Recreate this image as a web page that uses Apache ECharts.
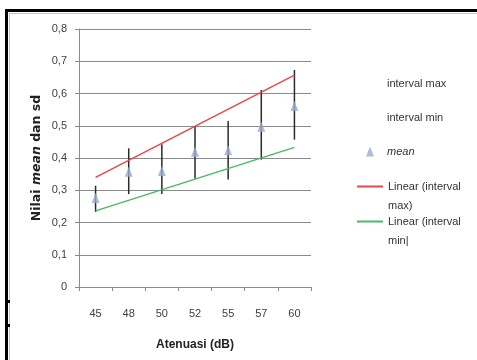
<!DOCTYPE html>
<html>
<head>
<meta charset="utf-8">
<script src="https://cdn.jsdelivr.net/npm/echarts@6/dist/echarts.min.js"></script>
<style>
  body { margin: 0; background: #fff; }
  #frame { position: absolute; left: 5px; top: 9px; width: 472px; height: 351px;
           border-top: 3px solid #000; border-left: 3px solid #000; box-sizing: border-box; }
  #frame-inner { position: absolute; left: 1px; top: 1px; right: 0; bottom: 0;
                 border-top: 1px solid #c4c4c4; border-left: 1px solid #c4c4c4; }
  .nick { position: absolute; left: 5px; width: 5px; height: 3px; background: #000; }
  #chart-ctn { position: absolute; left: 0; top: 0; width: 477px; height: 360px; }
</style>
</head>
<body>
<div id="frame"><div id="frame-inner"></div></div>
<div class="nick" style="top:300px"></div>
<div class="nick" style="top:324px"></div>
<div id="chart-ctn"></div>
<script>
var categories = ['45', '48', '50', '52', '55', '57', '60'];
var intervalMax = [0.314, 0.43, 0.443, 0.499, 0.515, 0.611, 0.673];
var intervalMin = [0.233, 0.288, 0.288, 0.336, 0.333, 0.395, 0.457];
var meanValues = [0.276, 0.357, 0.36, 0.419, 0.424, 0.497, 0.561];
// trend lines (first and last category)
var trendMax = [['45', 0.34], ['60', 0.657]];
var trendMin = [['45', 0.236], ['60', 0.433]];

var fontFam = "'Liberation Sans', Arial, sans-serif";
var gridColor = '#8a8a8a';

var errData = [];
categories.forEach(function(c, i) {
  errData.push([i, intervalMin[i], intervalMax[i]]);
});

var chart = echarts.init(document.getElementById('chart-ctn'));

var option = {
  animation: false,
  backgroundColor: 'transparent',
  textStyle: { fontFamily: fontFam },
  grid: { left: 79, right: 166, top: 29, bottom: 73 },
  legend: [
    {
      orient: 'vertical', left: 366, top: 78, padding: 0,
      itemWidth: 8, itemHeight: 10, itemGap: 23,
      textStyle: {
        fontSize: 11, color: '#333', fontFamily: fontFam, padding: [0, 0, 0, 8],
        rich: { i: { fontSize: 11, fontStyle: 'italic', color: '#333', fontFamily: fontFam } }
      },
      formatter: function(name) { return name == 'mean' ? '{i|mean}' : name; },
      data: [
        { name: 'interval max', icon: 'rect' },
        { name: 'interval min', icon: 'rect' },
        { name: 'mean', icon: 'triangle' }
      ],
      selectedMode: false
    },
    {
      orient: 'vertical', left: 357, top: 139, padding: 0,
      itemWidth: 26, itemHeight: 2, icon: 'rect',
      textStyle: { fontSize: 11, color: '#333', fontFamily: fontFam, lineHeight: 19 },
      formatter: function() { return '\n\nLinear (interval\nmax)\n'; },
      data: ['Linear (interval max)'],
      selectedMode: false
    },
    {
      orient: 'vertical', left: 357, top: 174, padding: 0,
      itemWidth: 26, itemHeight: 2, icon: 'rect',
      textStyle: { fontSize: 11, color: '#333', fontFamily: fontFam, lineHeight: 19 },
      formatter: function() { return '\n\nLinear (interval\nmin|\n'; },
      data: ['Linear (interval min)'],
      selectedMode: false
    }
  ],
  xAxis: {
    type: 'category',
    data: categories,
    name: 'Atenuasi (dB)',
    nameLocation: 'middle',
    nameGap: 52,
    nameTextStyle: { fontSize: 12, fontWeight: 'bold', color: '#222', fontFamily: fontFam },
    axisLine: { lineStyle: { color: gridColor, width: 1 } },
    axisTick: { show: true, length: 4, lineStyle: { color: gridColor } },
    axisLabel: { fontSize: 11, color: '#404040', margin: 21 },
    splitLine: { show: false }
  },
  yAxis: {
    type: 'value',
    min: 0, max: 0.8, interval: 0.1,
    name: '{b|Nilai }{bi|mean}{b| dan sd}',
    nameLocation: 'middle',
    nameGap: 36,
    nameRotate: 90,
    nameTextStyle: {
      rich: {
        b: { fontSize: 12.5, fontWeight: 'bold', color: '#222', fontFamily: "'DejaVu Sans', sans-serif" },
        bi: { fontSize: 12.5, fontWeight: 'bold', fontStyle: 'italic', color: '#222', fontFamily: "'DejaVu Sans', sans-serif" }
      }
    },
    axisLine: { show: true, lineStyle: { color: gridColor, width: 1 } },
    axisTick: { show: true, length: 4, lineStyle: { color: gridColor } },
    axisLabel: {
      fontSize: 11, color: '#404040', margin: 12,
      formatter: function(v) { return String(Math.round(v * 10) / 10).replace('.', ','); }
    },
    splitLine: { lineStyle: { color: gridColor, width: 1 } }
  },
  series: [
    {
      name: 'interval max', type: 'scatter', data: intervalMax,
      symbolSize: 0, itemStyle: { color: 'rgba(0,0,0,0)' }, silent: true
    },
    {
      name: 'interval min', type: 'scatter', data: intervalMin,
      symbolSize: 0, itemStyle: { color: 'rgba(0,0,0,0)' }, silent: true
    },
    {
      name: 'bars', type: 'custom', data: errData, z: 3,
      renderItem: function(params, api) {
        var p1 = api.coord([api.value(0), api.value(2)]);
        var p2 = api.coord([api.value(0), api.value(1)]);
        return {
          type: 'line',
          shape: { x1: p1[0], y1: p1[1], x2: p2[0], y2: p2[1] },
          style: { stroke: '#2a2a2a', lineWidth: 1.5 }
        };
      }
    },
    {
      name: 'Linear (interval max)', type: 'line', data: trendMax, z: 4,
      symbol: 'none', lineStyle: { color: '#e8474f', width: 1.5 }, itemStyle: { color: '#e8474f' }
    },
    {
      name: 'Linear (interval min)', type: 'line', data: trendMin, z: 4,
      symbol: 'none', lineStyle: { color: '#48b86a', width: 1.5 }, itemStyle: { color: '#48b86a' }
    },
    {
      name: 'mean', type: 'scatter', data: meanValues, z: 5,
      symbol: 'triangle', symbolSize: [8, 10], itemStyle: { color: '#9aaacf' }
    }
  ]
};

chart.setOption(option);
</script>
</body>
</html>
